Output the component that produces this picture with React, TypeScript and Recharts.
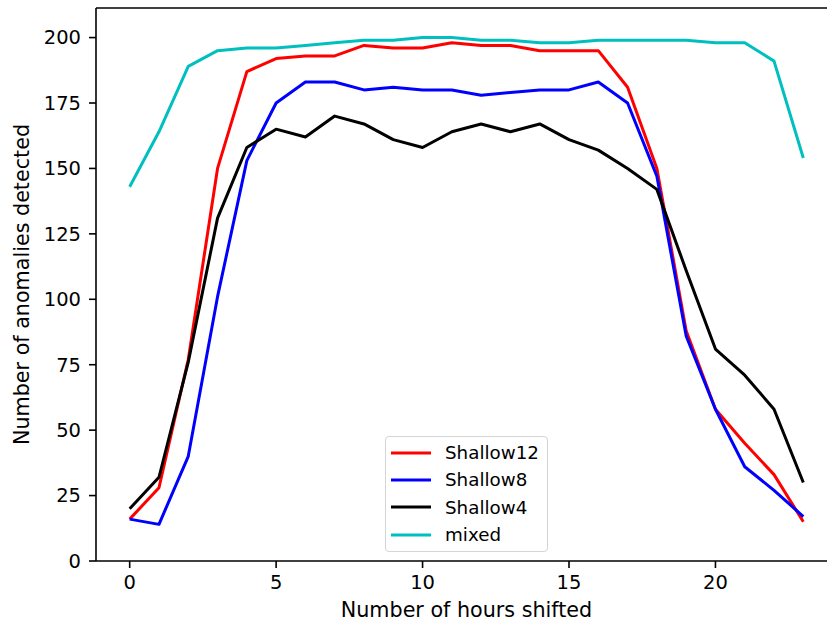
import React from "react";
import { Label, Line, LineChart, ReferenceLine, XAxis, YAxis } from "recharts";

const hours = [0, 1, 2, 3, 4, 5, 6, 7, 8, 9, 10, 11, 12, 13, 14, 15, 16, 17, 18, 19, 20, 21, 22, 23];

const shallow12 = [16, 28, 77, 150, 187, 192, 193, 193, 197, 196, 196, 198, 197, 197, 195, 195, 195, 181, 150, 88, 58, 45, 33, 15];
const shallow8 = [16, 14, 40, 101, 153, 175, 183, 183, 180, 181, 180, 180, 178, 179, 180, 180, 183, 175, 147, 86, 58, 36, 27, 17];
const shallow4 = [20, 32, 76, 131, 158, 165, 162, 170, 167, 161, 158, 164, 167, 164, 167, 161, 157, 150, 142, 111, 81, 71, 58, 30];
const mixed = [143, 164, 189, 195, 196, 196, 197, 198, 199, 199, 200, 200, 199, 199, 198, 198, 199, 199, 199, 199, 198, 198, 191, 154];

const xTicks = [0, 5, 10, 15, 20];
const yTicks = [0, 25, 50, 75, 100, 125, 150, 175, 200];
const yTop = 211.3;

const seriesList = [
  { key: "shallow12", name: "Shallow12", color: "#ff0000" },
  { key: "shallow8", name: "Shallow8", color: "#0000ff" },
  { key: "shallow4", name: "Shallow4", color: "#000000" },
  { key: "mixed", name: "mixed", color: "#00bfbf" },
];

const data = hours.map((h, i) => ({
  hour: h,
  shallow12: shallow12[i],
  shallow8: shallow8[i],
  shallow4: shallow4[i],
  mixed: mixed[i],
}));

const FONT = "'DejaVu Sans', sans-serif";

// legend drawn as an overlay so it doesn't eat chart space
const LegendBox = () => (
  <div
    style={{
      position: "absolute",
      left: 385,
      top: 436,
      width: 163,
      height: 116,
      border: "1px solid #d4d4d4",
      borderRadius: 4,
      background: "rgba(255,255,255,0.8)",
      boxSizing: "border-box",
      paddingTop: 2,
      fontFamily: FONT,
      fontSize: 18.3,
      color: "#000",
    }}
  >
    {seriesList.map((s) => (
      <div key={s.key} style={{ height: 27.3, display: "flex", alignItems: "center" }}>
        <svg width={59} height={10} style={{ flex: "none" }}>
          <line x1={5} x2={45} y1={5} y2={5} stroke={s.color} strokeWidth={3} />
        </svg>
        <span>{s.name}</span>
      </div>
    ))}
  </div>
);

export default function App() {
  return (
    <div style={{ position: "absolute", left: 0, top: 0, width: 827, height: 625, overflow: "hidden", background: "#fff" }}>
      <LineChart
        width={850}
        height={625}
        data={data}
        margin={{ top: 8, right: 13, left: 0, bottom: 24 }}
        style={{ fontFamily: FONT }}
      >
        <XAxis
          dataKey="hour"
          type="number"
          domain={[-1.15, 24.15]}
          ticks={xTicks}
          allowDataOverflow
          height={40}
          tickSize={7}
          tickMargin={7}
          tick={{ fill: "#000", fontSize: 19.5 }}
          stroke="#000"
          strokeWidth={1.6}
        >
          <Label value="Number of hours shifted" position="bottom" offset={1} fill="#000" fontSize={20.7} />
        </XAxis>
        <YAxis
          type="number"
          domain={[0, yTop]}
          ticks={yTicks}
          allowDataOverflow
          width={96}
          tickSize={7}
          tickMargin={8}
          tick={{ fill: "#000", fontSize: 19.5 }}
          stroke="#000"
          strokeWidth={1.6}
        >
          <Label
            value="Number of anomalies detected"
            angle={-90}
            position="insideLeft"
            offset={22}
            fill="#000"
            fontSize={20.7}
            style={{ textAnchor: "middle" }}
          />
        </YAxis>
        <ReferenceLine y={yTop} stroke="#000" strokeWidth={1.6} ifOverflow="visible" />
        {seriesList.map((s) => (
          <Line
            key={s.key}
            dataKey={s.key}
            name={s.name}
            stroke={s.color}
            strokeWidth={3}
            strokeLinejoin="round"
            dot={false}
            activeDot={false}
            type="linear"
            isAnimationActive={false}
          />
        ))}
      </LineChart>
      <LegendBox />
    </div>
  );
}
